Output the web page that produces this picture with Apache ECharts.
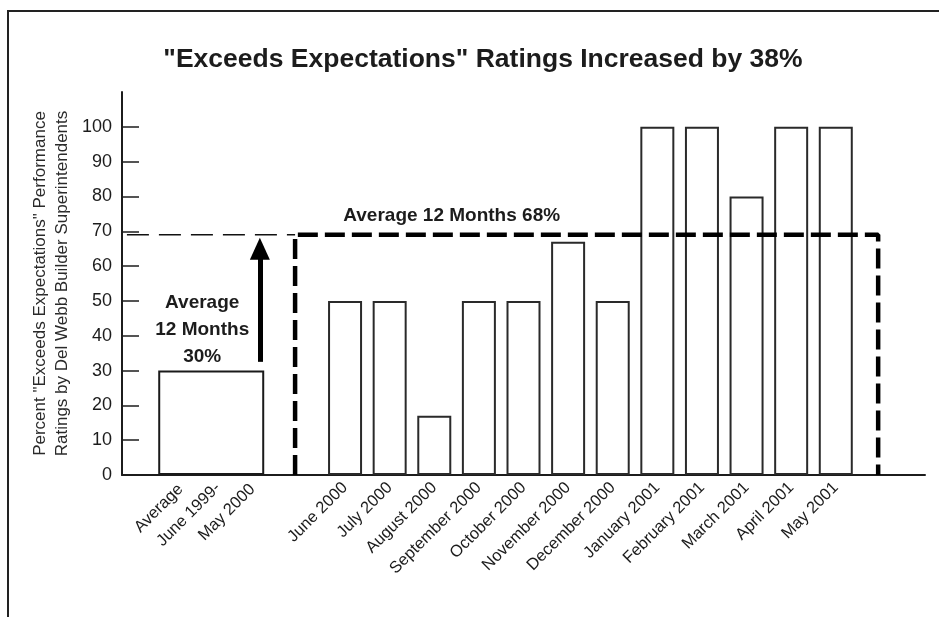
<!DOCTYPE html>
<html><head><meta charset="utf-8">
<script src="https://cdn.jsdelivr.net/npm/echarts@6/dist/echarts.min.js"></script>
<style>html,body{margin:0;padding:0;background:#fff}#c{width:939px;height:617px}</style>
</head><body><div id="c"></div>
<script>
// ---- data ----
const chartTitle = '"Exceeds Expectations" Ratings Increased by 38%';
const yAxisName = 'Percent "Exceeds Expectations" Performance\nRatings by Del Webb Builder Superintendents';
const categories = ['', '', 'Average\nJune 1999-\nMay 2000', '', '',
  'June 2000', 'July 2000', 'August 2000', 'September 2000', 'October 2000', 'November 2000',
  'December 2000', 'January 2001', 'February 2001', 'March 2001', 'April 2001', 'May 2001', '', ''];
const monthValues = [50, 50, 17, 50, 50, 67, 50, 100, 100, 80, 100, 100];
const beforeAverage = 30;           // Average June 1999 - May 2000
const afterAverageLevel = 69;       // level of the 12-month average line
const arrowFrom = 32.5, arrowTo = 65;
const yTicks = [0, 10, 20, 30, 40, 50, 60, 70, 80, 90, 100];
const beforeLabel = 'Average\n12 Months\n30%';
const afterLabel = 'Average 12 Months 68%';

// category positions (index on axis)
const beforeIndex = 2, firstMonthIndex = 5;
const bracketLeft = 3.88, bracketRight = 16.95, arrowX = 3.09, afterLabelX = 7.39, leftLineStart = 0.11;

const monthData = categories.map((c, i) => (i >= firstMonthIndex && i < firstMonthIndex + monthValues.length) ? monthValues[i - firstMonthIndex] : null);
const beforeData = categories.map((c, i) => i === beforeIndex ? beforeAverage : null);

const ink = '#1c1c1c';
const font = 'Liberation Sans, Arial, Helvetica, sans-serif';
const xData = categories.map((c, i) => i === beforeIndex ? { value: c, textStyle: { padding: [10, -28, 0, 0] } } : c);
const lineKeys = ['l0', 'l1', 'l2'];

const chart = echarts.init(document.getElementById('c'), null, { renderer: 'canvas' });
chart.setOption({
  animation: false,
  backgroundColor: '#fff',
  textStyle: { fontFamily: font, color: ink },
  title: {
    text: chartTitle, left: 478, top: 41, textAlign: 'center',
    textStyle: { fontFamily: font, fontSize: 26.5, fontWeight: 'bold', color: ink }
  },
  graphic: [{
    type: 'polyline', silent: true,
    shape: { points: [[8, 617], [8, 11], [939, 11]] },
    style: { stroke: '#222', lineWidth: 2, fill: null }
  }],
  grid: { left: 122, right: 14, top: 92, bottom: 142, outerBoundsMode: 'none', containLabel: false },
  xAxis: [{
    type: 'category', data: xData, boundaryGap: false,
    axisLine: { lineStyle: { color: ink, width: 2 } },
    axisTick: { show: false },
    splitLine: { show: false },
    axisLabel: {
      interval: 0, rotate: 45, margin: 10, fontSize: 16.5, color: ink, fontFamily: font,
      formatter: v => v.indexOf('\n') < 0 ? v : v.split('\n').map((s, i) => '{' + lineKeys[i] + '|' + s + '}').join('\n'),
      rich: {
        l0: { align: 'right', padding: [0, 51, 0, 0], lineHeight: 25.5, fontSize: 16.5, color: ink, fontFamily: font },
        l1: { align: 'right', padding: [0, 23.5, 0, 0], lineHeight: 25.5, fontSize: 16.5, color: ink, fontFamily: font },
        l2: { align: 'right', padding: [0, 0, 0, 0], lineHeight: 25.5, fontSize: 16.5, color: ink, fontFamily: font }
      }
    }
  }, {
    type: 'category', data: categories, boundaryGap: false, show: false
  }, {
    type: 'value', min: 0, max: 18, show: false
  }],
  yAxis: {
    type: 'value', min: 0, max: 110, interval: 10,
    name: yAxisName, nameLocation: 'middle', nameGap: 49, nameMoveOverlap: false,
    nameTextStyle: { fontSize: 17, lineHeight: 22, color: '#2a2a2a', fontFamily: font },
    axisLine: { show: true, lineStyle: { color: ink, width: 2 } },
    axisTick: { show: true, inside: true, length: 17, customValues: yTicks, lineStyle: { color: ink, width: 1.5 } },
    axisLabel: { customValues: yTicks, fontSize: 18, margin: 10, color: ink, fontFamily: font },
    splitLine: { show: false }
  },
  series: [{
    type: 'bar', name: 'Months', xAxisIndex: 0, data: monthData, barWidth: 34,
    itemStyle: { color: '#fff', borderColor: '#2a2a2a', borderWidth: 2 }, silent: true
  }, {
    type: 'bar', name: 'Average before', xAxisIndex: 1, data: beforeData, barWidth: 106,
    itemStyle: { color: '#fff', borderColor: '#1a1a1a', borderWidth: 2 }, silent: true,
    label: {
      show: true, position: 'top', distance: 0, offset: [-9, 0],
      formatter: beforeLabel, fontSize: 19, fontWeight: 'bold', lineHeight: 27, color: ink, fontFamily: font
    }
  }, {
    type: 'line', name: 'thin', xAxisIndex: 2, symbol: 'none', silent: true,
    data: [[leftLineStart, afterAverageLevel], [bracketLeft, afterAverageLevel]],
    lineStyle: { color: '#111', width: 1.5, type: [22, 10] },
    markLine: {
      silent: true, symbol: ['none', 'triangle'], symbolSize: [20, 22],
      label: { show: false },
      lineStyle: { type: 'solid', width: 5, color: '#000' },
      data: [[{ coord: [arrowX, arrowFrom] }, { coord: [arrowX, arrowTo] }]]
    }
  }, {
    type: 'line', name: 'bracket', xAxisIndex: 2, symbol: 'none', silent: true,
    data: [[bracketLeft, 0], [bracketLeft, afterAverageLevel], [bracketRight, afterAverageLevel], [bracketRight, 0]],
    lineStyle: { color: '#000', width: 4.5, type: [20, 7] }
  }, {
    type: 'scatter', name: 'afterLabel', xAxisIndex: 2, symbolSize: 0, silent: true,
    itemStyle: { opacity: 1 },
    data: [[afterLabelX, afterAverageLevel]],
    label: {
      show: true, position: 'top', distance: 9, formatter: afterLabel, opacity: 1,
      fontSize: 19, fontWeight: 'bold', color: ink, fontFamily: font
    }
  }]
});
</script></body></html>
